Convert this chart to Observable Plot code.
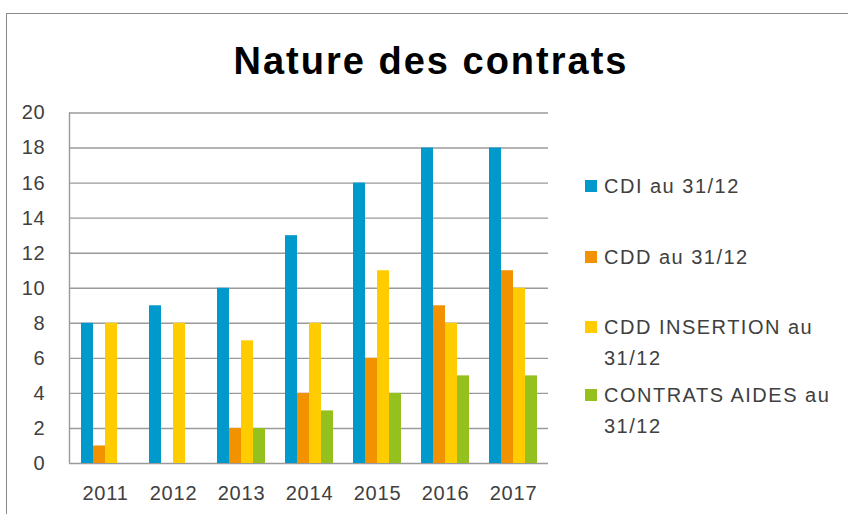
<!DOCTYPE html>
<html>
<head>
<meta charset="utf-8">
<script src="https://cdn.jsdelivr.net/npm/d3@7"></script>
<script src="https://cdn.jsdelivr.net/npm/@observablehq/plot@0.6"></script>
<style>
  body { margin: 0; background: #fff; }
  #wrap { position: relative; width: 848px; height: 514px; overflow: hidden; font-family: "Liberation Sans", Arial, sans-serif; }
  #wrap svg { position: absolute; left: 0; top: 0; }
  #frame { position: absolute; left: 6px; top: 13px; width: 900px; height: 600px; border-left: 1.5px solid #8a8a8a; border-top: 1.5px solid #8a8a8a; }
  #title { position: absolute; left: 0; width: 862px; top: 38px; text-align: center; font-size: 38px; font-weight: bold; letter-spacing: 2px; color: #000; line-height: 46px; }
  .leg { position: absolute; left: 585px; width: 234px; font-size: 20px; letter-spacing: 1.5px; color: #404040; line-height: 31px; padding-left: 19px; }
  .leg .sw { position: absolute; left: 0; top: 9px; width: 12px; height: 12px; }
</style>
</head>
<body>
<div id="wrap">
  <div id="frame"></div>
  <div id="title">Nature des contrats</div>
</div>
<script>
const years = ["2011", "2012", "2013", "2014", "2015", "2016", "2017"];
const series = ["CDI au 31/12", "CDD au 31/12", "CDD INSERTION au 31/12", "CONTRATS AIDES au 31/12"];
const cdi = [8, 9, 10, 13, 16, 18, 18];
const cdd = [1, 0, 2, 4, 6, 9, 11];
const insertion = [8, 8, 7, 8, 11, 8, 10];
const aides = [0, 0, 2, 3, 4, 5, 5];
const yTicks = [0, 2, 4, 6, 8, 10, 12, 14, 16, 18, 20];
const colors = ["#0099CC", "#F39200", "#FFCC00", "#95C11F"];

const seriesValues = [cdi, cdd, insertion, aides];
const data = years.flatMap((yr, i) => series.map((s, j) => ({year: yr, series: s, value: seriesValues[j][i]})));

const dims = {width: 848, height: 514, marginLeft: 69, marginRight: 300, marginTop: 112.5, marginBottom: 51};
const fontStyle = {fontFamily: "'Liberation Sans', Arial, sans-serif", fontSize: "20px", color: "#404040", background: "transparent", overflow: "visible", letterSpacing: "0.8px"};

const grid = Plot.plot({
  ...dims,
  style: fontStyle,
  x: {domain: [0, 1], axis: null},
  y: {domain: [0, 20], ticks: yTicks, tickSize: 0, tickPadding: 24, label: null},
  marks: [
    Plot.ruleY(yTicks, {stroke: "#9a9a9a", strokeWidth: 1.4}),
    Plot.ruleX([0], {stroke: "#9a9a9a", strokeWidth: 1.4})
  ]
});

const bars = Plot.plot({
  ...dims,
  style: fontStyle,
  fx: {domain: years, paddingInner: 0.27, paddingOuter: 0.135, label: null, axis: "bottom", tickSize: 0, tickPadding: 22},
  x: {domain: series, axis: null, padding: 0},
  y: {domain: [0, 20], axis: null},
  color: {domain: series, range: colors},
  marks: [
    Plot.barY(data, {fx: "year", x: "series", y: "value", fill: "series"})
  ]
});

const wrap = document.getElementById("wrap");
wrap.appendChild(grid);
wrap.appendChild(bars);

const legTops = [171, 242, 312, 380];
series.forEach((s, i) => {
  const d = document.createElement("div");
  d.className = "leg";
  d.style.top = legTops[i] + "px";
  const sw = document.createElement("span");
  sw.className = "sw";
  sw.style.background = colors[i];
  d.appendChild(sw);
  d.appendChild(document.createTextNode(s));
  wrap.appendChild(d);
});
</script>
</body>
</html>
